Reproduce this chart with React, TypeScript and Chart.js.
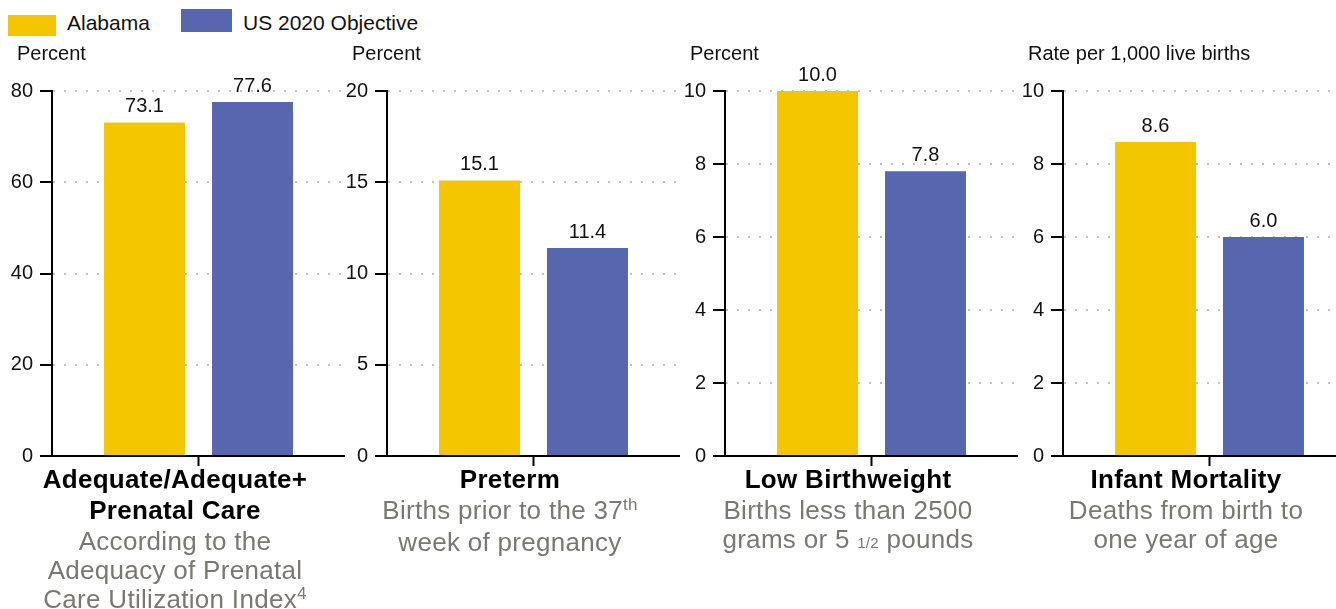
import React, { useEffect, useRef } from 'react';
import { Chart, registerables } from 'chart.js';

Chart.register(...registerables);

// ---- data ----
const seriesNames = ['Alabama', 'US 2020 Objective'];
const seriesColors = ['#F4C600', '#5766AE'];
const alabamaValues = [73.1, 15.1, 10.0, 8.6];
const objectiveValues = [77.6, 11.4, 7.8, 6.0];
const unitLabels = ['Percent', 'Percent', 'Percent', 'Rate per 1,000 live births'];
const axisMax = [80, 20, 10, 10];
const axisStep = [20, 5, 2, 2];
const categoryTitles = [
  ['Adequate/Adequate+', 'Prenatal Care'],
  ['Preterm'],
  ['Low Birthweight'],
  ['Infant Mortality'],
];
// subtitle lines; segments of [text, kind] where kind: '' normal, 'sup' superscript, 'small' small text
const categorySubtitles: [string, string][][][] = [
  [[['According to the', '']], [['Adequacy of Prenatal', '']], [['Care Utilization Index', ''], ['4', 'sup']]],
  [[['Births prior to the 37', ''], ['th', 'sup']], [['week of pregnancy', '']]],
  [[['Births less than 2500', '']], [['grams or 5 ', ''], ['1/2', 'small'], [' pounds', '']]],
  [[['Deaths from birth to', '']], [['one year of age', '']]],
];

// ---- layout ----
const FONT = '"Liberation Sans", Arial, Helvetica, sans-serif';
const axisX = [52, 387, 725, 1063];
const LEFT_W = 52;
const PLOT_W = 293;
const CANVAS_H = 475;
const PLOT_TOP = 91;
const X_AXIS_H = 15;

const valueLabelPlugin = {
  id: 'valueLabels',
  afterDatasetsDraw(chart: any) {
    const ctx = chart.ctx;
    ctx.save();
    ctx.font = `20px ${FONT}`;
    ctx.fillStyle = '#111';
    ctx.textAlign = 'center';
    ctx.textBaseline = 'alphabetic';
    chart.data.datasets.forEach((ds: any, di: number) => {
      const meta = chart.getDatasetMeta(di);
      meta.data.forEach((bar: any, i: number) => {
        const v = ds.data[i];
        ctx.fillText(Number(v).toFixed(1), bar.x, bar.y - 10);
      });
    });
    ctx.restore();
  },
};

function makeUnitPlugin(text: string) {
  return {
    id: 'unitLabel',
    afterDraw(chart: any) {
      const ctx = chart.ctx;
      ctx.save();
      ctx.font = `20px ${FONT}`;
      ctx.fillStyle = '#111';
      ctx.textAlign = 'left';
      ctx.textBaseline = 'alphabetic';
      ctx.fillText(text, chart.chartArea.left - 35, 60);
      ctx.restore();
    },
  };
}

function Panel({ index }: { index: number }) {
  const ref = useRef<HTMLCanvasElement | null>(null);
  useEffect(() => {
    if (!ref.current) return;
    const chart = new Chart(ref.current, {
      type: 'bar',
      data: {
        labels: [''],
        datasets: [
          { label: seriesNames[0], data: [alabamaValues[index]], backgroundColor: seriesColors[0] },
          { label: seriesNames[1], data: [objectiveValues[index]], backgroundColor: seriesColors[1] },
        ],
      },
      options: {
        animation: false,
        responsive: false,
        maintainAspectRatio: false,
        events: [],
        layout: { padding: { top: PLOT_TOP, left: 0, right: 0, bottom: 0 } },
        datasets: { bar: { categoryPercentage: 0.737, barPercentage: 0.75 } },
        plugins: { legend: { display: false }, tooltip: { enabled: false }, title: { display: false } },
        scales: {
          x: {
            type: 'category',
            offset: true,
            grid: {
              offset: false,
              drawOnChartArea: false,
              drawTicks: true,
              tickLength: 10,
              tickColor: '#000',
              tickWidth: 2,
            },
            border: { color: '#000', width: 2 },
            ticks: { display: false },
            afterFit: (s: any) => { s.height = X_AXIS_H; },
          },
          y: {
            min: 0,
            max: axisMax[index],
            ticks: { stepSize: axisStep[index], font: { family: FONT, size: 20 }, color: '#111', padding: 7 },
            grid: {
              color: (c: any) => (c.tick && c.tick.value === 0 ? 'rgba(0,0,0,0)' : '#c2c2c2'),
              lineWidth: 2,
              tickColor: '#000',
              tickWidth: 2,
              tickLength: 12,
              tickBorderDash: [],
            },
            border: { color: '#000', width: 2, dash: [2, 9], dashOffset: 0 },
            afterFit: (s: any) => { s.width = LEFT_W; },
          },
        },
      } as any,
      plugins: [valueLabelPlugin, makeUnitPlugin(unitLabels[index])],
    });
    return () => chart.destroy();
  }, [index]);
  const w = LEFT_W + PLOT_W;
  return (
    <canvas
      ref={ref}
      width={w}
      height={CANVAS_H}
      style={{ position: 'absolute', left: axisX[index] - LEFT_W, top: 0, width: w, height: CANVAS_H }}
    />
  );
}

function Caption({ index }: { index: number }) {
  const cx = axisX[index] + 123;
  return (
    <div
      style={{
        position: 'absolute',
        left: cx - 170,
        width: 340,
        top: 464,
        textAlign: 'center',
        fontFamily: FONT,
        fontSize: 26,
        letterSpacing: '0.3px',
      }}
    >
      {categoryTitles[index].map((t, i) => (
        <div key={i} style={{ fontWeight: 'bold', color: '#000', lineHeight: '30.5px', whiteSpace: 'nowrap' }}>{t}</div>
      ))}
      <div style={{ marginTop: 1.5 }}>
        {categorySubtitles[index].map((line, i) => (
          <div key={i} style={{ color: '#7A7872', lineHeight: '29px', whiteSpace: 'nowrap' }}>
            {line.map(([txt, kind], j) =>
              kind === 'sup' ? (
                <span key={j} style={{ fontSize: 17, position: 'relative', top: -9 }}>{txt}</span>
              ) : kind === 'small' ? (
                <span key={j} style={{ fontSize: 15 }}>{txt}</span>
              ) : (
                <span key={j}>{txt}</span>
              )
            )}
          </div>
        ))}
      </div>
    </div>
  );
}

function Legend() {
  const boxes = [
    { left: 8, top: 15, w: 48, h: 21, textLeft: 67 },
    { left: 181, top: 9, w: 51, h: 23, textLeft: 243 },
  ];
  return (
    <>
      {seriesNames.map((name, i) => (
        <React.Fragment key={i}>
          <div style={{ position: 'absolute', left: boxes[i].left, top: boxes[i].top, width: boxes[i].w, height: boxes[i].h, background: seriesColors[i] }} />
          <div style={{ position: 'absolute', left: boxes[i].textLeft, top: 8, fontFamily: FONT, fontSize: 21, lineHeight: '30px', color: '#111', whiteSpace: 'nowrap' }}>{name}</div>
        </React.Fragment>
      ))}
    </>
  );
}

export default function App() {
  return (
    <div style={{ position: 'fixed', left: 0, top: 0, width: 1336, height: 609, overflow: 'hidden', background: '#fff' }}>
      <Legend />
      {[0, 1, 2, 3].map((i) => (
        <Panel key={i} index={i} />
      ))}
      {[0, 1, 2, 3].map((i) => (
        <Caption key={'c' + i} index={i} />
      ))}
    </div>
  );
}
